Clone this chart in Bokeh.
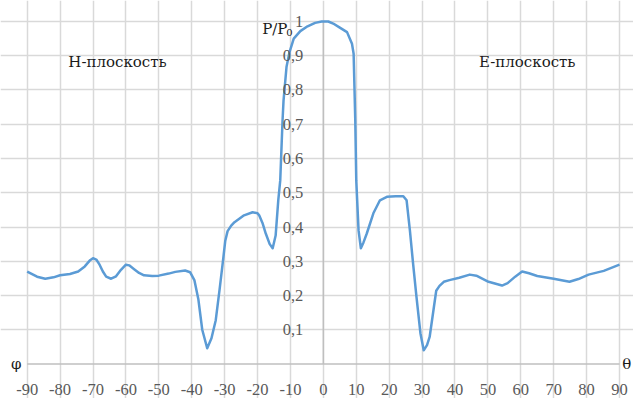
from bokeh.plotting import figure
from bokeh.models import (Range1d, FixedTicker, ColumnDataSource, LabelSet, Grid)
from bokeh.core.properties import value
from bokeh.embed import file_html
from bokeh.resources import INLINE

# Radiation pattern, normalised power P/P0 versus angle (deg)
angle = [-90, -87, -84.5, -82, -80, -77, -74.5, -72.5, -71, -70, -69, -68,
         -67, -66, -64.5, -63, -61.5, -60, -59, -57.5, -56, -54.5, -52, -50,
         -47, -45, -42, -40.5, -39.2, -38, -36.8, -35.3, -34, -32.7, -31.5,
         -30.6, -29.8, -29.1, -28, -27, -24.1, -21.5, -20, -19.5, -18.5, -17.5,
         -16.3, -15.4, -14.5, -13.7, -13.1, -12.4, -12.1, -11.2, -10.3, -9, -7,
         -4.8, -2.5, -0.5, 1.5, 3, 5, 7.2, 8.7, 9.2, 9.7, 10.0, 10.7, 11.4,
         12.2, 13.2, 15.2, 17.2, 19.3, 22, 24.3, 25.3, 26.3, 27.3, 28.3, 29.5,
         30.5, 31.5, 32.3, 33.5, 34.3, 35.3, 36.6, 38.3, 41.3, 44.5, 46.5,
         50.2, 54.3, 56, 58.3, 60.4, 62.5, 65, 70, 74.8, 77.5, 80.6, 85.2, 90]
power = [0.270, 0.255, 0.249, 0.253, 0.259, 0.263, 0.270, 0.285, 0.302, 0.309,
         0.305, 0.290, 0.270, 0.255, 0.249, 0.256, 0.275, 0.290, 0.288, 0.277,
         0.266, 0.259, 0.257, 0.258, 0.264, 0.269, 0.273, 0.268, 0.245, 0.190,
         0.100, 0.046, 0.075, 0.128, 0.220, 0.293, 0.360, 0.388, 0.404, 0.414,
         0.434, 0.443, 0.440, 0.434, 0.412, 0.381, 0.350, 0.338, 0.375, 0.478,
         0.536, 0.711, 0.769, 0.867, 0.910, 0.950, 0.972, 0.986, 0.996, 1.000,
         1.000, 0.994, 0.982, 0.969, 0.935, 0.906, 0.711, 0.536, 0.390, 0.338,
         0.355, 0.381, 0.440, 0.478, 0.488, 0.490, 0.490, 0.478, 0.390, 0.290,
         0.196, 0.090, 0.040, 0.055, 0.079, 0.160, 0.214, 0.228, 0.240, 0.245,
         0.252, 0.261, 0.258, 0.240, 0.229, 0.236, 0.255, 0.270, 0.265, 0.257,
         0.249, 0.240, 0.248, 0.261, 0.272, 0.290]

x_ticks = list(range(-90, 91, 10))
x_tick_labels = [str(t) for t in x_ticks]
y_ticks = [0.1, 0.2, 0.3, 0.4, 0.5, 0.6, 0.7, 0.8, 0.9, 1.0]
y_tick_labels = ["0,1", "0,2", "0,3", "0,4", "0,5", "0,6", "0,7", "0,8", "0,9", "1"]

# plane captions and the P/P0 heading
note_x = [-77.5, 47.3, -18.6]
note_y = [0.881, 0.881, 0.979]
note_text = ["H-плоскость", "E-плоскость", "P/P"]
# angle symbols at the ends of the horizontal axis
sym_x = [-93.3, 92.2]
sym_y = [0.0, 0.0]
sym_text = ["φ", "θ"]

GRID = "#D9D9D9"
AXIS = "#BFBFBF"
TICK_TEXT = "#595959"
SERIF = "DejaVu Serif"
TICK_FONT = "Lato"
TICK_SIZE = "16.5px"

# The frame fills the whole canvas; the plotting area is -90..90 by 0..1
p = figure(width=633, height=398, output_backend="svg", toolbar_location=None,
           x_range=Range1d(-98.11, 94.25), y_range=Range1d(-0.1007, 1.0613),
           x_axis_location=None, y_axis_location=None,
           min_border=0)
p.background_fill_color = "white"
p.border_fill_color = "white"
p.outline_line_color = None
p.xgrid.visible = False
p.ygrid.visible = False

p.add_layout(Grid(dimension=0, ticker=FixedTicker(ticks=x_ticks), bounds=(0, 1),
                  grid_line_color=GRID, grid_line_width=1.5))
p.add_layout(Grid(dimension=1, ticker=FixedTicker(ticks=y_ticks), bounds=(-90, 90),
                  grid_line_color=GRID, grid_line_width=1.5))

# axis lines crossing at the origin
p.segment(x0=[0, -90], y0=[0, 0], x1=[0, 90], y1=[1, 0],
          line_color=AXIS, line_width=1.5)

# tick labels
xsrc = ColumnDataSource(dict(x=x_ticks, y=[0] * len(x_ticks), label=x_tick_labels))
p.add_layout(LabelSet(x="x", y="y", text="label", source=xsrc,
                      y_offset=-25.5, text_align="center", text_baseline="middle",
                      text_font=TICK_FONT, text_font_size=TICK_SIZE,
                      text_color=TICK_TEXT))
ysrc = ColumnDataSource(dict(x=[0] * len(y_ticks), y=y_ticks, label=y_tick_labels))
p.add_layout(LabelSet(x="x", y="y", text="label", source=ysrc,
                      x_offset=-20, text_align="right", text_baseline="middle",
                      text_font=TICK_FONT, text_font_size=TICK_SIZE,
                      text_color=TICK_TEXT))

p.line(angle, power, line_color="#5B9BD5", line_width=2.5, line_join="round")

p.text(x=note_x, y=note_y, text=note_text, text_font=value(SERIF),
       text_font_size="15px", text_color="#1a1a1a", text_align="left",
       text_baseline="alphabetic")
# subscript of P/P0
p.text(x=[-11.3], y=[0.968], text=["0"], text_font=value(SERIF),
       text_font_size="10px", text_color="#1a1a1a", text_baseline="alphabetic")
p.text(x=sym_x, y=sym_y, text=sym_text, text_font=value(SERIF),
       text_font_size="15px", text_color="#1a1a1a", text_align="center",
       text_baseline="middle")

open("out.html", "w").write(file_html(p, INLINE))
